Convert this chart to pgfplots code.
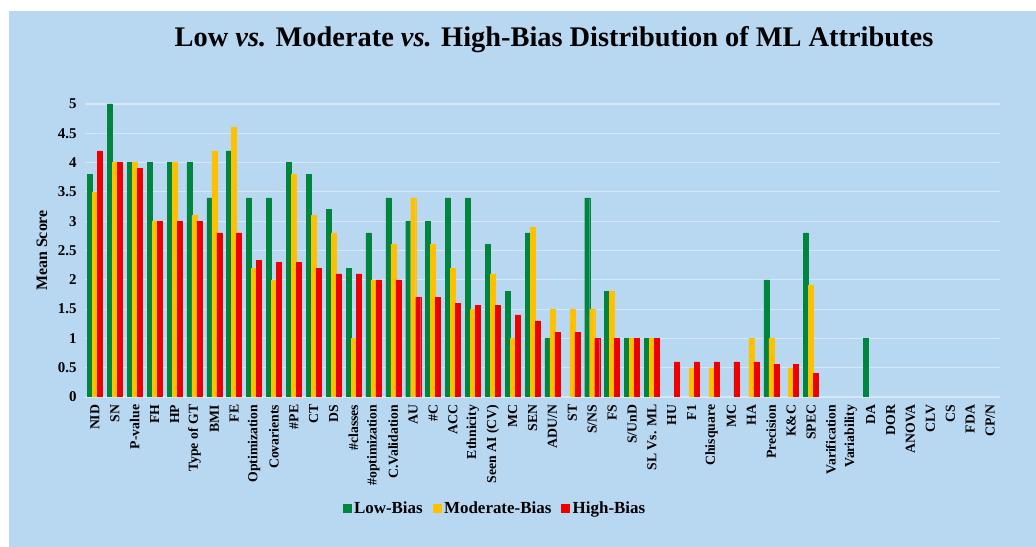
\documentclass[border=0pt]{standalone}
\usepackage{pgfplots}
\usepackage{pgfplotstable}
\pgfplotsset{compat=1.18}
\usepackage{fontspec}
\setmainfont{Liberation Serif}

\definecolor{panelbg}{RGB}{184,216,242}
\definecolor{gridc}{RGB}{214,232,248}
\definecolor{lowc}{RGB}{0,133,62}
\definecolor{modc}{RGB}{255,192,0}
\definecolor{highc}{RGB}{238,0,0}

% mean score per attribute: low / moderate / high bias
\pgfplotstableread{
x low mod high
0 3.8 3.5 4.2
1 5.0 4.0 4.0
2 4.0 4.0 3.9
3 4.0 3.0 3.0
4 4.0 4.0 3.0
5 4.0 3.1 3.0
6 3.4 4.2 2.8
7 4.2 4.6 2.8
8 3.4 2.2 2.33
9 3.4 2.0 2.3
10 4.0 3.8 2.3
11 3.8 3.1 2.2
12 3.2 2.8 2.1
13 2.2 1.0 2.1
14 2.8 2.0 2.0
15 3.4 2.6 2.0
16 3.0 3.4 1.7
17 3.0 2.6 1.7
18 3.4 2.2 1.6
19 3.4 1.5 1.56
20 2.6 2.1 1.56
21 1.8 1.0 1.4
22 2.8 2.9 1.3
23 1.0 1.5 1.1
24 0 1.5 1.1
25 3.4 1.5 1.0
26 1.8 1.8 1.0
27 1.0 1.0 1.0
28 1.0 1.0 1.0
29 0 0 0.6
30 0 0.5 0.6
31 0 0.5 0.6
32 0 0 0.6
33 0 1.0 0.6
34 2.0 1.0 0.56
35 0 0.5 0.56
36 2.8 1.9 0.4
37 0 0 0
38 0 0 0
39 1.0 0 0
40 0 0 0
41 0 0 0
42 0 0 0
43 0 0 0
44 0 0 0
45 0 0 0
}\scores

\begin{document}
\begin{tikzpicture}
\useasboundingbox (0,0) rectangle (1036bp,547bp);
\fill[white] (0,0) rectangle (1036bp,547bp);
\fill[panelbg] (9bp,0) rectangle (1036bp,536bp);

\node[font=\bfseries\fontsize{28.5}{32}\selectfont] at (554bp,507bp)
  {Low \textit{vs.} Moderate \textit{vs.} High-Bias Distribution of ML Attributes};

\begin{axis}[
  at={(85bp,150bp)}, anchor=south west,
  scale only axis, width=915bp, height=293bp,
  ybar=0pt, bar width=5bp,
  xmin=-0.5, xmax=45.5, ymin=0, ymax=5,
  xtick={0,...,45},
  xticklabels={NID,SN,P-value,FH,HP,Type of GT,BMI,FE,Optimization,Covarients,\#PE,CT,DS,\#classes,\#optimization,C.Validation,AU,\#C,ACC,Ethnicity,Seen AI (CV),MC,SEN,ADU/N,ST,S/NS,FS,S/UnD,SL Vs. ML,HU,F1,Chisquare,MC,HA,Precision,K\&C,SPEC,Varification,Variability,DA,DOR,ANOVA,CLV,CS,FDA,CP/N},
  ytick={0,0.5,1,1.5,2,2.5,3,3.5,4,4.5,5},
  /pgf/number format/assume math mode=true,
  axis line style={draw=none}, tick style={draw=none},
  ymajorgrids, grid style={gridc, line width=1.2pt},
  xticklabel style={rotate=90, anchor=east, font=\bfseries\fontsize{13.8}{15}\selectfont},
  yticklabel style={font=\bfseries\fontsize{15}{17}\selectfont, xshift=-5bp},
  ylabel={Mean Score},
  every axis y label/.style={at={(axis description cs:-0.047,0.5)}, rotate=90, anchor=center,
    font=\bfseries\fontsize{16}{18}\selectfont},
  legend columns=3,
  legend style={at={(0.448,-0.379)}, anchor=center, draw=none, fill=none,
    font=\bfseries\fontsize{17}{19}\selectfont,
    /tikz/every odd column/.append style={column sep=1bp},
    /tikz/every even column/.append style={column sep=8bp}},
  legend image code/.code={\fill[#1] (0bp,-4bp) rectangle (8bp,4bp);},
]
\addplot[fill=lowc, draw=lowc, line width=0.4pt] table[x=x, y=low] {\scores};
\addplot[fill=modc, draw=modc, line width=0.4pt] table[x=x, y=mod] {\scores};
\addplot[fill=highc, draw=highc, line width=0.4pt] table[x=x, y=high] {\scores};
\legend{Low-Bias, Moderate-Bias, High-Bias}
\end{axis}
\end{tikzpicture}
\end{document}
